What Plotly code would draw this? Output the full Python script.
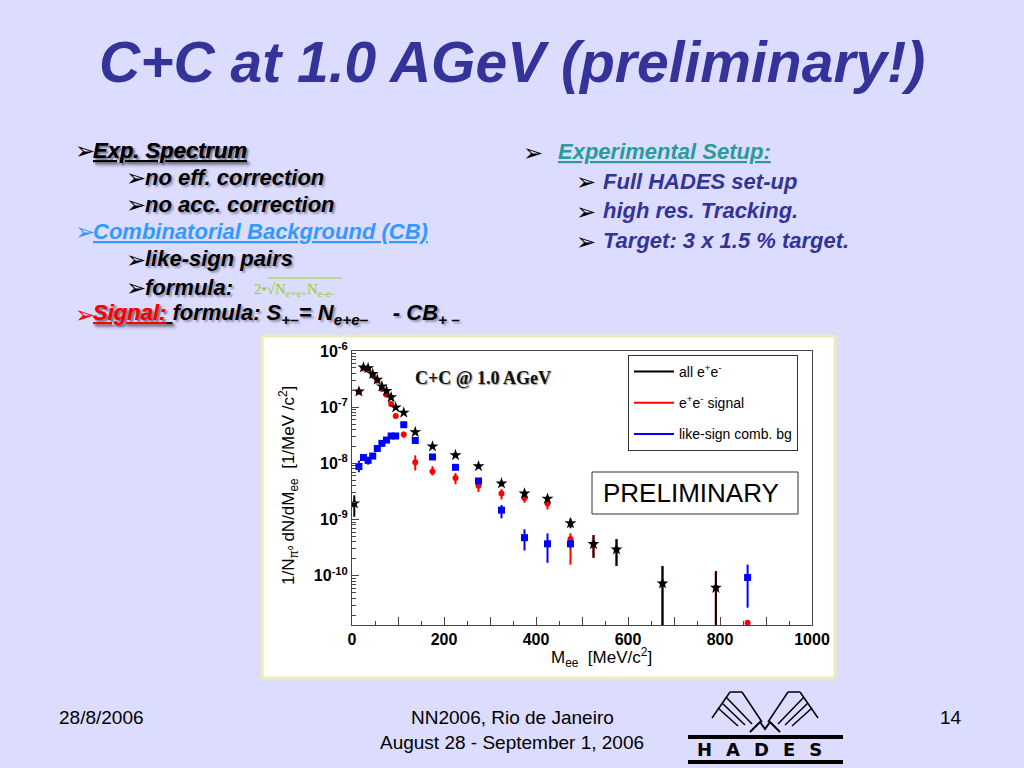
import plotly.graph_objects as go

W, H = 1024, 768


def fx(p):
    return p / W


def fy(p):
    return 1 - p / H


# ---------------- data ----------------
mass_all = [5, 15, 25, 35, 45, 55, 65, 75, 85, 95, 112.5, 137.5, 175, 225, 275,
            325, 375, 425, 475, 525, 575, 675, 791]
dn_all = [1.94e-9, 1.9e-7, 5.1e-7, 4.95e-7, 3.9e-7, 3.1e-7, 2.35e-7, 1.95e-7, 1.5e-7,
          9.9e-8, 8.0e-8, 3.6e-8, 2.0e-8, 1.4e-8, 8.9e-9, 4.4e-9, 2.9e-9, 2.35e-9,
          8.6e-10, 3.66e-10, 2.94e-10, 7.3e-11, 6.1e-11]
err_all_hi = [7.6e-10, 6e-9, 1.5e-8, 1.5e-8, 1.2e-8, 1e-8, 8e-9, 7e-9, 6e-9, 4e-9,
              3.5e-9, 2.5e-9, 1.5e-9, 1.1e-9, 8e-10, 5e-10, 3.5e-10, 3e-10, 1.9e-10,
              1.62e-10, 1.55e-10, 7.6e-11, 6.0e-11]
err_all_lo = [8.2e-10, 6e-9, 1.5e-8, 1.5e-8, 1.2e-8, 1e-8, 8e-9, 7e-9, 6e-9, 4e-9,
              3.5e-9, 2.5e-9, 1.5e-9, 1.1e-9, 8e-10, 5e-10, 3.5e-10, 3e-10, 1.6e-10,
              1.57e-10, 1.45e-10, 7.29e-11, 6.09e-11]

mass_sig = [15, 25, 35, 45, 55, 65, 75, 85, 95, 112.5, 137.5, 175, 225, 275, 325,
            375, 425, 475, 525, 575, 675, 791, 860]
dn_sig = [1.88e-7, 4.9e-7, 4.7e-7, 3.7e-7, 2.94e-7, 2.1e-7, 1.66e-7, 1.14e-7, 7.0e-8,
          3.26e-8, 1.05e-8, 7.2e-9, 5.5e-9, 4.0e-9, 2.9e-9, 2.43e-9, 1.93e-9, 4.5e-10,
          3.66e-10, 2.94e-10, 7.3e-11, 6.1e-11, 1.45e-11]
err_sig_hi = [6e-9, 1.5e-8, 1.5e-8, 1.2e-8, 1e-8, 8e-9, 7e-9, 5e-9, 4e-9, 4e-9, 3.4e-9,
              1.7e-9, 1.25e-9, 1.0e-9, 5.7e-10, 4.0e-10, 3.5e-10, 1.2e-10, 1.62e-10,
              1.55e-10, 7.6e-11, 6.0e-11, 0]
err_sig_lo = [6e-9, 1.5e-8, 1.5e-8, 1.2e-8, 1e-8, 8e-9, 7e-9, 5e-9, 4e-9, 4e-9, 3.0e-9,
              1.1e-9, 1.25e-9, 0.9e-9, 6.2e-10, 4.4e-10, 4.2e-10, 2.93e-10, 1.57e-10,
              1.45e-10, 7.29e-11, 6.09e-11, 0]

mass_bg = [15, 25, 35, 45, 55, 65, 75, 85, 95, 112.5, 137.5, 175, 225, 275, 325, 375,
           425, 475, 860]
dn_bg = [8.8e-9, 1.27e-8, 1.13e-8, 1.35e-8, 1.84e-8, 2.27e-8, 2.6e-8, 3.07e-8, 3.07e-8,
         4.87e-8, 2.55e-8, 1.3e-8, 8.5e-9, 4.85e-9, 1.47e-9, 4.76e-10, 3.7e-10, 3.7e-10,
         9.3e-11]
err_bg_hi = [2.4e-9, 1.5e-9, 1.8e-9, 1.5e-9, 1.2e-9, 1.2e-9, 1.2e-9, 1.2e-9, 1.2e-9,
             1.8e-9, 1.2e-9, 7e-10, 5e-10, 3.5e-10, 3.4e-10, 1.95e-10, 1.96e-10, 6e-11,
             6.5e-11]
err_bg_lo = [1.85e-9, 1.5e-9, 1.8e-9, 1.5e-9, 1.2e-9, 1.2e-9, 1.2e-9, 1.2e-9, 1.2e-9,
             1.8e-9, 1.2e-9, 7e-10, 5e-10, 3.5e-10, 4.2e-10, 1.95e-10, 2.0e-10, 6e-11,
             6.6e-11]

series_names = ["all e<sup>+</sup>e<sup>-</sup>", "e<sup>+</sup>e<sup>-</sup> signal",
                "like-sign comb. bg"]
x_tickvals = [0, 100, 200, 300, 400, 500, 600, 700, 800, 900, 1000]
x_ticktext = ["0", "", "200", "", "400", "", "600", "", "800", "", "1000"]
x_minor = [50, 150, 250, 350, 450, 550, 650, 750, 850, 950]
y_tickvals = [1e-10, 1e-9, 1e-8, 1e-7, 1e-6]
y_ticktext = ["10<sup>-10</sup>", "10<sup>-9</sup>", "10<sup>-8</sup>",
              "10<sup>-7</sup>", "10<sup>-6</sup>"]
y_minor = [m * 10.0 ** e for e in range(-11, -6) for m in range(2, 10)]

# ---------------- colours / fonts ----------------
BG = "#dcdcff"
NAVY = "#333399"
SANS = "Liberation Sans, Arial, sans-serif"
SERIF = "Liberation Serif, Times New Roman, serif"
ARROWF = "DejaVu Sans"
SHADOW = "2px 2px 2px rgba(90,90,110,0.55)"

fig = go.Figure()


def errs(hi, lo, color):
    return dict(type="data", symmetric=False, array=hi, arrayminus=lo,
                color=color, thickness=2, width=0)


fig.add_trace(go.Scatter(x=mass_sig, y=dn_sig, mode="markers", showlegend=False,
                         marker=dict(symbol="circle", size=6, color="#ff0000"),
                         error_y=errs(err_sig_hi, err_sig_lo, "#ff0000")))
fig.add_trace(go.Scatter(x=mass_all, y=dn_all, mode="markers", showlegend=False,
                         marker=dict(symbol="star", size=9, color="black"),
                         error_y=errs(err_all_hi, err_all_lo, "black")))
fig.add_trace(go.Scatter(x=mass_bg, y=dn_bg, mode="markers", showlegend=False,
                         marker=dict(symbol="square", size=7, color="#0000ff"),
                         error_y=errs(err_bg_hi, err_bg_lo, "#0000ff")))

for name, col, grp in zip(series_names, ["black", "#ff0000", "#0000ff"], ["a", "b", "c"]):
    fig.add_trace(go.Scatter(x=[None], y=[None], mode="lines", name=name,
                             legendgroup=grp, line=dict(color=col, width=2)))

annotations = []


def txt(x, y, text, size, color="black", family=SANS, weight="normal", style="normal",
        shadow="none", xanchor="left", yanchor="middle", **kw):
    annotations.append(dict(x=fx(x), y=fy(y), xref="paper", yref="paper", text=text,
                            showarrow=False, xanchor=xanchor, yanchor=yanchor,
                            font=dict(size=size, color=color, family=family,
                                      weight=weight, style=style, shadow=shadow),
                            **kw))


# title
txt(512, 62, "C+C at 1.0 AGeV (preliminary!)", 57, NAVY, weight="bold", style="italic",
    xanchor="center")

# left column
arrow_sz = 24
left_lines = [
    (77, 93, 150, "<u>Exp. Spectrum</u>", "black", "black", SHADOW),
    (128, 145, 177, "no eff. correction", "black", "black", SHADOW),
    (128, 145, 204, "no acc. correction", "black", "black", SHADOW),
    (77, 93, 231, "<u>Combinatorial Background (CB)</u>", "#3399ff", "#3399ff", "none"),
    (128, 145, 259, "like-sign pairs", "black", "black", SHADOW),
    (128, 145, 287, "formula:", "black", "black", SHADOW),
    (77, 93, 314, "<span style='color:#ff0000'><u>Signal:</u></span><u> </u>"
                  "formula: S<sub>+–</sub>= N<sub>e+e–</sub>    - CB<sub>+ –</sub>",
     "#ff0000", "black", SHADOW),
]
for ax_, tx_, y_, t_, acol, tcol, sh in left_lines:
    txt(ax_ - 4, y_ + 1, "➢", arrow_sz, acol, family=ARROWF)
    txt(tx_ - 2, y_, t_, 22, tcol, weight="bold", style="italic", shadow=sh)

# green formula
txt(252, 290, "2•√N<sub>e+e+</sub>N<sub>e-e-</sub>", 15, "#99cc33", family=SERIF)

# right column
right_lines = [
    (525, 558, 152, "<u>Experimental Setup:</u>", "#2a9a9a"),
    (578, 603, 181, "Full HADES set-up", NAVY),
    (578, 603, 211, "high res. Tracking.", NAVY),
    (578, 603, 241, "Target: 3 x 1.5 % target.", NAVY),
]
for ax_, tx_, y_, t_, tcol in right_lines:
    txt(ax_ - 4, y_ + 1, "➢", arrow_sz, "black", family=ARROWF)
    txt(tx_ - 2, y_, t_, 22, tcol, weight="bold", style="italic")

# footer
txt(57, 717, "28/8/2006", 19)
txt(512, 717, "NN2006, Rio de Janeiro", 19, xanchor="center")
txt(512, 742, "August 28 - September 1, 2006", 19, xanchor="center")
txt(951, 717, "14", 19, xanchor="center")

# chart texts
txt(483, 378, "C+C @ 1.0 AGeV", 18, "#111111", family=SERIF, weight="bold",
    xanchor="center", shadow="1px 1px 1px #999")
txt(601, 493, "PRELIMINARY", 26)
txt(288, 486, "1/N<sub>π⁰</sub> dN/dM<sub>ee</sub>  [1/MeV /c<sup>2</sup>]", 17,
    xanchor="center", textangle=-90)
txt(601, 657, "M<sub>ee</sub>  [MeV/c<sup>2</sup>]", 17, xanchor="center")

# HADES logo text
txt(766, 749, "<span style='letter-spacing:14px'>HADES</span>", 18, "black",
    family="DejaVu Sans", weight="bold", xanchor="center")

shapes = []
# white chart panel
shapes.append(dict(type="rect", xref="paper", yref="paper", x0=fx(262), x1=fx(835),
                   y0=fy(678), y1=fy(336), fillcolor="white",
                   line=dict(color="#ececb8", width=3), layer="below"))
# PRELIMINARY box
shapes.append(dict(type="rect", xref="paper", yref="paper", x0=fx(592), x1=fx(798),
                   y0=fy(514), y1=fy(472), line=dict(color="#333", width=1)))
# radical bar of green formula
shapes.append(dict(type="line", xref="paper", yref="paper", x0=fx(268), x1=fx(342),
                   y0=fy(278), y1=fy(278), line=dict(color="#99cc33", width=1)))
# HADES logo bars
for yb in (737, 762):
    shapes.append(dict(type="rect", xref="paper", yref="paper", x0=fx(688), x1=fx(843),
                       y0=fy(yb + 2), y1=fy(yb - 2), fillcolor="black",
                       line=dict(width=0)))
# HADES wings
wing_left = [((712, 718), (730, 692)), ((730, 692), (742, 692)),
             ((742, 692), (762, 722)), ((726, 697), (752, 724)),
             ((722, 703), (745, 725)), ((718, 708), (738, 726))]
for (x0, y0), (x1, y1) in wing_left:
    for sgn in (1, -1):
        xa = x0 if sgn == 1 else 1530 - x0
        xb = x1 if sgn == 1 else 1530 - x1
        shapes.append(dict(type="line", xref="paper", yref="paper",
                           x0=fx(xa), x1=fx(xb), y0=fy(y0), y1=fy(y1),
                           line=dict(color="black", width=1.5)))
shapes.append(dict(type="path", xref="paper", yref="paper",
                   path=f"M {fx(750)},{fy(732)} L {fx(760)},{fy(722)} L {fx(765)},{fy(729)} "
                        f"L {fx(770)},{fy(722)} L {fx(780)},{fy(732)}",
                   line=dict(color="black", width=2)))

axis_font = dict(family=SANS, size=16, color="black", weight="bold")
fig.update_layout(
    width=W, height=H, margin=dict(l=0, r=0, t=0, b=0, pad=0, autoexpand=False),
    paper_bgcolor=BG, plot_bgcolor="white",
    xaxis=dict(domain=[fx(352), fx(812)], range=[0, 1000], showline=True,
               linecolor="#444", linewidth=1, mirror=True, ticks="inside", ticklen=8,
               tickcolor="#444", tickvals=x_tickvals, ticktext=x_ticktext,
               tickfont=axis_font, showgrid=False, zeroline=False, automargin=False,
               minor=dict(ticks="inside", ticklen=4, tickcolor="#444", tickvals=x_minor)),
    yaxis=dict(type="log", domain=[fy(625), fy(351)], range=[-10.877, -6], showline=True,
               linecolor="#444", linewidth=1, mirror=True, ticks="inside", ticklen=7,
               tickcolor="#444", tickvals=y_tickvals, ticktext=y_ticktext,
               tickfont=axis_font, showgrid=False, zeroline=False, automargin=False,
               minor=dict(ticks="inside", ticklen=4, tickcolor="#444", tickvals=y_minor)),
    legend=dict(x=fx(628), y=fy(355), xanchor="left", yanchor="top", bgcolor="white",
                bordercolor="#333", borderwidth=1, tracegroupgap=10,
                traceorder="grouped", font=dict(family=SANS, size=14, color="black"),
                itemwidth=40),
    annotations=annotations, shapes=shapes, showlegend=True,
)

fig.write_html("out.html", config={"displayModeBar": False},
               post_script="document.documentElement.style.margin='0';"
                           "document.body.style.margin='0';"
                           "document.body.style.padding='0';"
                           "document.body.style.overflow='hidden';")
